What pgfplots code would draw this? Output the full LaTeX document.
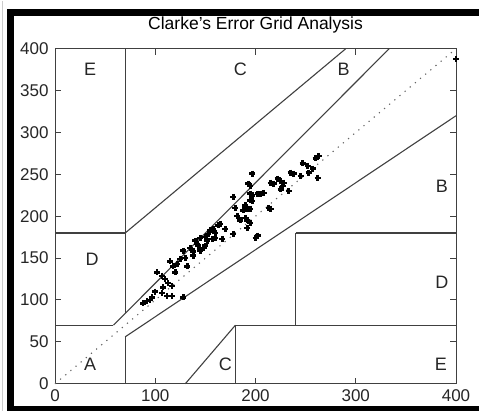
\documentclass[border=0pt]{standalone}
\usepackage{fontspec}
\setmainfont{Liberation Sans}
\usepackage{pgfplots}
\pgfplotsset{compat=1.18}

\pgfplotstableread{
x y
88 96
92 99
97 103
95 100
100 110
107 108
112 105
117 105
128 103
108 115
117 117
113 120
110 125
107 129
102 133
120 133
118 140
132 140
122 143
115 146
125 149
130 150
138 153
138 158
128 159
145 159
135 162
142 167
148 162
150 165
140 171
143 165
152 171
145 174
150 175
160 174
157 173
167 173
155 183
153 179
158 185
160 180
163 189
165 191
170 185
178 179
185 195
202 177
200 174
192 186
195 192
192 195
182 200
190 198
188 207
192 209
180 210
195 209
190 213
215 209
213 210
197 218
195 219
195 227
197 224
178 223
202 227
205 227
208 228
197 225
193 239
195 236
197 251
218 239
225 242
227 236
233 230
225 232
215 240
222 245
228 240
235 252
238 251
245 248
253 252
262 246
247 263
252 260
257 257
260 269
263 272
400 388
}\pts

\pgfplotsset{gl/.style={black!75, line width=1.1pt, mark=none, solid}}

\begin{document}
\begin{tikzpicture}
\path (0pt,0pt) rectangle (479pt,410pt);
\draw[gray!40, line width=1.5pt] (2.5pt,0pt) -- (2.5pt,410pt);
\begin{axis}[
  at={(55pt,27pt)}, anchor=south west,
  width=401pt, height=335pt, scale only axis,
  xmin=0, xmax=400, ymin=0, ymax=400,
  xtick={0,100,200,300,400},
  ytick={0,50,100,150,200,250,300,350,400},
  tick align=inside,
  major tick length=6pt,
  tick style={black!75, line width=1pt},
  axis line style={black!75, line width=1pt},
  unbounded coords=jump,
  /pgf/number format/assume math mode=true,
  ticklabel style={font=\fontsize{17}{20}\selectfont, text=black!85},
  xticklabel style={yshift=-2pt},
  yticklabel style={xshift=-3pt},
  title={Clarke's Error Grid Analysis},
  title style={font=\fontsize{17.5}{20}\selectfont, at={(0.5,1)}, anchor=base, yshift=13pt},
  clip=false,
]
% box edge and tick marks
\addplot[gl, line width=1pt] coordinates {(400,0) (400,400)};
\addplot[gl, line width=1pt] coordinates {
  (100,0) (100,7) (nan,nan) (200,0) (200,7) (nan,nan) (300,0) (300,7) (nan,nan)
  (100,400) (100,393) (nan,nan) (200,400) (200,393) (nan,nan) (300,400) (300,393) (nan,nan)
  (0,50) (6,50) (nan,nan) (0,100) (6,100) (nan,nan) (0,150) (6,150) (nan,nan)
  (0,200) (6,200) (nan,nan) (0,250) (6,250) (nan,nan) (0,300) (6,300) (nan,nan)
  (0,350) (6,350) (nan,nan)
  (400,50) (394,50) (nan,nan) (400,100) (394,100) (nan,nan) (400,150) (394,150) (nan,nan)
  (400,200) (394,200) (nan,nan) (400,250) (394,250) (nan,nan) (400,300) (394,300) (nan,nan)
  (400,350) (394,350)
};
% zone boundaries
\addplot[black!60, mark=none, dash pattern=on 1.2pt off 5.5pt, line width=1.1pt] coordinates {(0,0) (400,400)};
\addplot[gl] coordinates {(0,70) (58.33,70)};
\addplot[gl] coordinates {(58.33,70) (333.33,400)};
\addplot[gl] coordinates {(70,84) (70,400)};
\addplot[gl] coordinates {(0,180) (70,180)};
\addplot[gl] coordinates {(70,180) (290,400)};
\addplot[gl] coordinates {(70,0) (70,56)};
\addplot[gl] coordinates {(70,56) (400,320)};
\addplot[gl] coordinates {(180,0) (180,70)};
\addplot[gl] coordinates {(180,70) (400,70)};
\addplot[gl] coordinates {(240,70) (240,180)};
\addplot[gl] coordinates {(240,180) (400,180)};
\addplot[gl] coordinates {(130,0) (180,70)};
\addplot[only marks, mark=+, mark size=3pt, black, line width=2.4pt] table {\pts};
\node[font=\fontsize{18}{20}\selectfont, text=black!85] at (axis cs:35,376) {E};
\node[font=\fontsize{18}{20}\selectfont, text=black!85] at (axis cs:185,376) {C};
\node[font=\fontsize{18}{20}\selectfont, text=black!85] at (axis cs:288,376) {B};
\node[font=\fontsize{18}{20}\selectfont, text=black!85] at (axis cs:386,236) {B};
\node[font=\fontsize{18}{20}\selectfont, text=black!85] at (axis cs:37,149) {D};
\node[font=\fontsize{18}{20}\selectfont, text=black!85] at (axis cs:386,121) {D};
\node[font=\fontsize{18}{20}\selectfont, text=black!85] at (axis cs:35,23) {A};
\node[font=\fontsize{18}{20}\selectfont, text=black!85] at (axis cs:170,23) {C};
\node[font=\fontsize{18}{20}\selectfont, text=black!85] at (axis cs:385,23) {E};
\end{axis}
\fill[black] (7pt,0pt) rectangle (14pt,402pt);
\fill[black] (7pt,395pt) rectangle (479pt,402pt);
\fill[black] (7pt,0pt) rectangle (479pt,5pt);
\end{tikzpicture}
\end{document}
